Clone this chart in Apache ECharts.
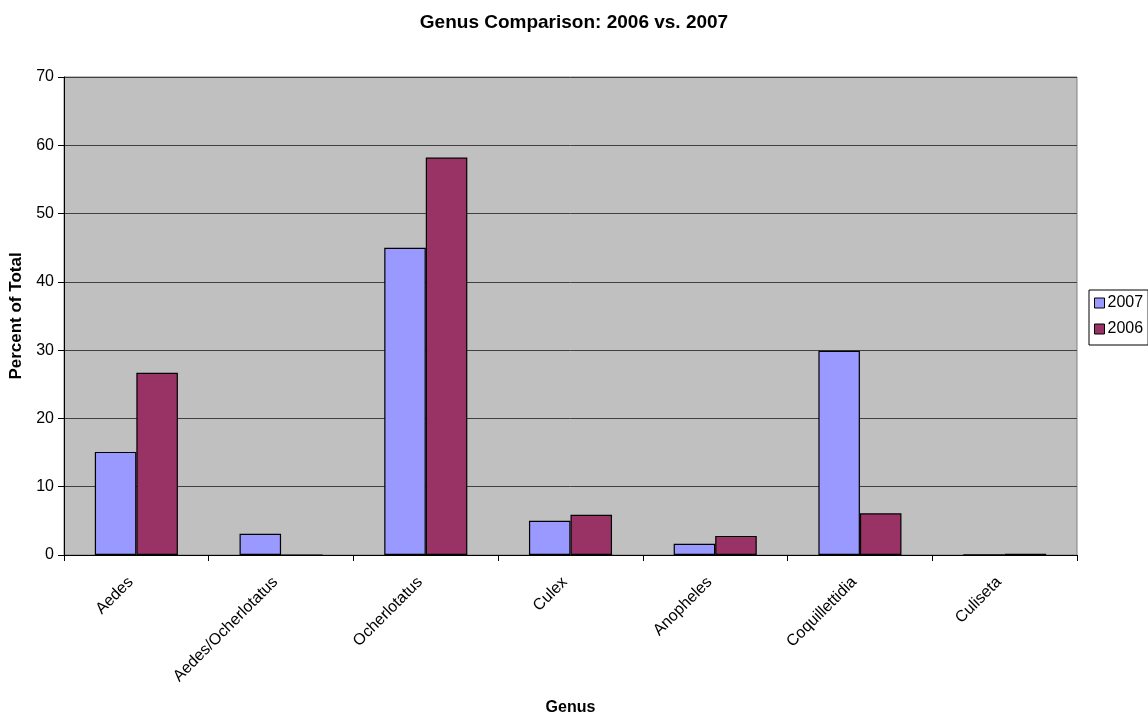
<!DOCTYPE html>
<html>
<head>
<meta charset="utf-8">
<title>Genus Comparison: 2006 vs. 2007</title>
<script src="https://cdn.jsdelivr.net/npm/echarts@6/dist/echarts.min.js"></script>
<style>
  html, body { margin: 0; padding: 0; background: #fff; }
  #chart { width: 1148px; height: 717px; }
</style>
</head>
<body>
<div id="chart"></div>
<script>
// Genus share of total catch, by year
const genera = ['Aedes', 'Aedes/Ocherlotatus', 'Ocherlotatus', 'Culex', 'Anopheles', 'Coquillettidia', 'Culiseta'];
const pct2007 = [15.1, 3.1, 45.0, 5.0, 1.65, 29.9, 0.05];
const pct2006 = [26.7, 0, 58.2, 5.9, 2.8, 6.1, 0.2];
const yTicks = [0, 10, 20, 30, 40, 50, 60, 70];

const font = '"Liberation Sans", Arial, sans-serif';
const chart = echarts.init(document.getElementById('chart'), null, { renderer: 'canvas' });

chart.setOption({
  animation: false,
  backgroundColor: '#ffffff',
  textStyle: { fontFamily: font, color: '#000' },
  title: {
    text: 'Genus Comparison: 2006 vs. 2007',
    left: 'center',
    top: 8,
    textStyle: { fontFamily: font, fontSize: 19, fontWeight: 'bold', color: '#000' }
  },
  legend: {
    orient: 'vertical',
    left: 1089,
    top: 290,
    padding: [4, 5, 7, 5],
    itemGap: 8,
    itemWidth: 10,
    itemHeight: 10,
    borderColor: '#000',
    borderWidth: 1,
    icon: 'rect',
    itemStyle: { borderColor: '#000', borderWidth: 1 },
    textStyle: { fontFamily: font, fontSize: 16, lineHeight: 18, color: '#000', padding: [0, 0, 0, -2] },
    data: ['2007', '2006']
  },
  grid: {
    left: 64,
    right: 71,
    top: 77,
    bottom: 162,
    outerBoundsMode: 'none',
    show: true,
    backgroundColor: '#c0c0c0',
    borderColor: '#808080',
    borderWidth: 1
  },
  xAxis: {
    type: 'category',
    data: genera,
    name: 'Genus',
    nameLocation: 'middle',
    nameGap: 145,
    nameTextStyle: { fontFamily: font, fontSize: 16, fontWeight: 'bold', color: '#000' },
    axisLine: { lineStyle: { color: '#000', width: 1 } },
    axisTick: { show: true, length: 6, lineStyle: { color: '#000' } },
    axisLabel: {
      rotate: 45, margin: 19, padding: [0, 8, 0, 0],
      fontFamily: font, fontSize: 16, color: '#000', interval: 0
    },
    splitLine: { show: false }
  },
  yAxis: {
    type: 'value',
    min: yTicks[0],
    max: yTicks[yTicks.length - 1],
    interval: 10,
    name: 'Percent of Total',
    nameLocation: 'middle',
    nameRotate: 90,
    nameGap: 37,
    nameTextStyle: { fontFamily: font, fontSize: 17, fontWeight: 'bold', color: '#000' },
    axisLine: { show: true, lineStyle: { color: '#000', width: 1 } },
    axisTick: { show: true, length: 6, lineStyle: { color: '#000' } },
    axisLabel: { margin: 10, fontFamily: font, fontSize: 16, color: '#000' },
    splitLine: { show: true, lineStyle: { color: '#404040', width: 1 } }
  },
  series: [
    {
      name: '2007',
      type: 'bar',
      data: pct2007,
      barGap: '0%',
      barCategoryGap: '42.6%',
      itemStyle: { color: '#9999ff', borderColor: '#000', borderWidth: 1.2 }
    },
    {
      name: '2006',
      type: 'bar',
      data: pct2006,
      barGap: '0%',
      barCategoryGap: '42.6%',
      itemStyle: { color: '#993366', borderColor: '#000', borderWidth: 1.2 }
    }
  ]
});
</script>
</body>
</html>
